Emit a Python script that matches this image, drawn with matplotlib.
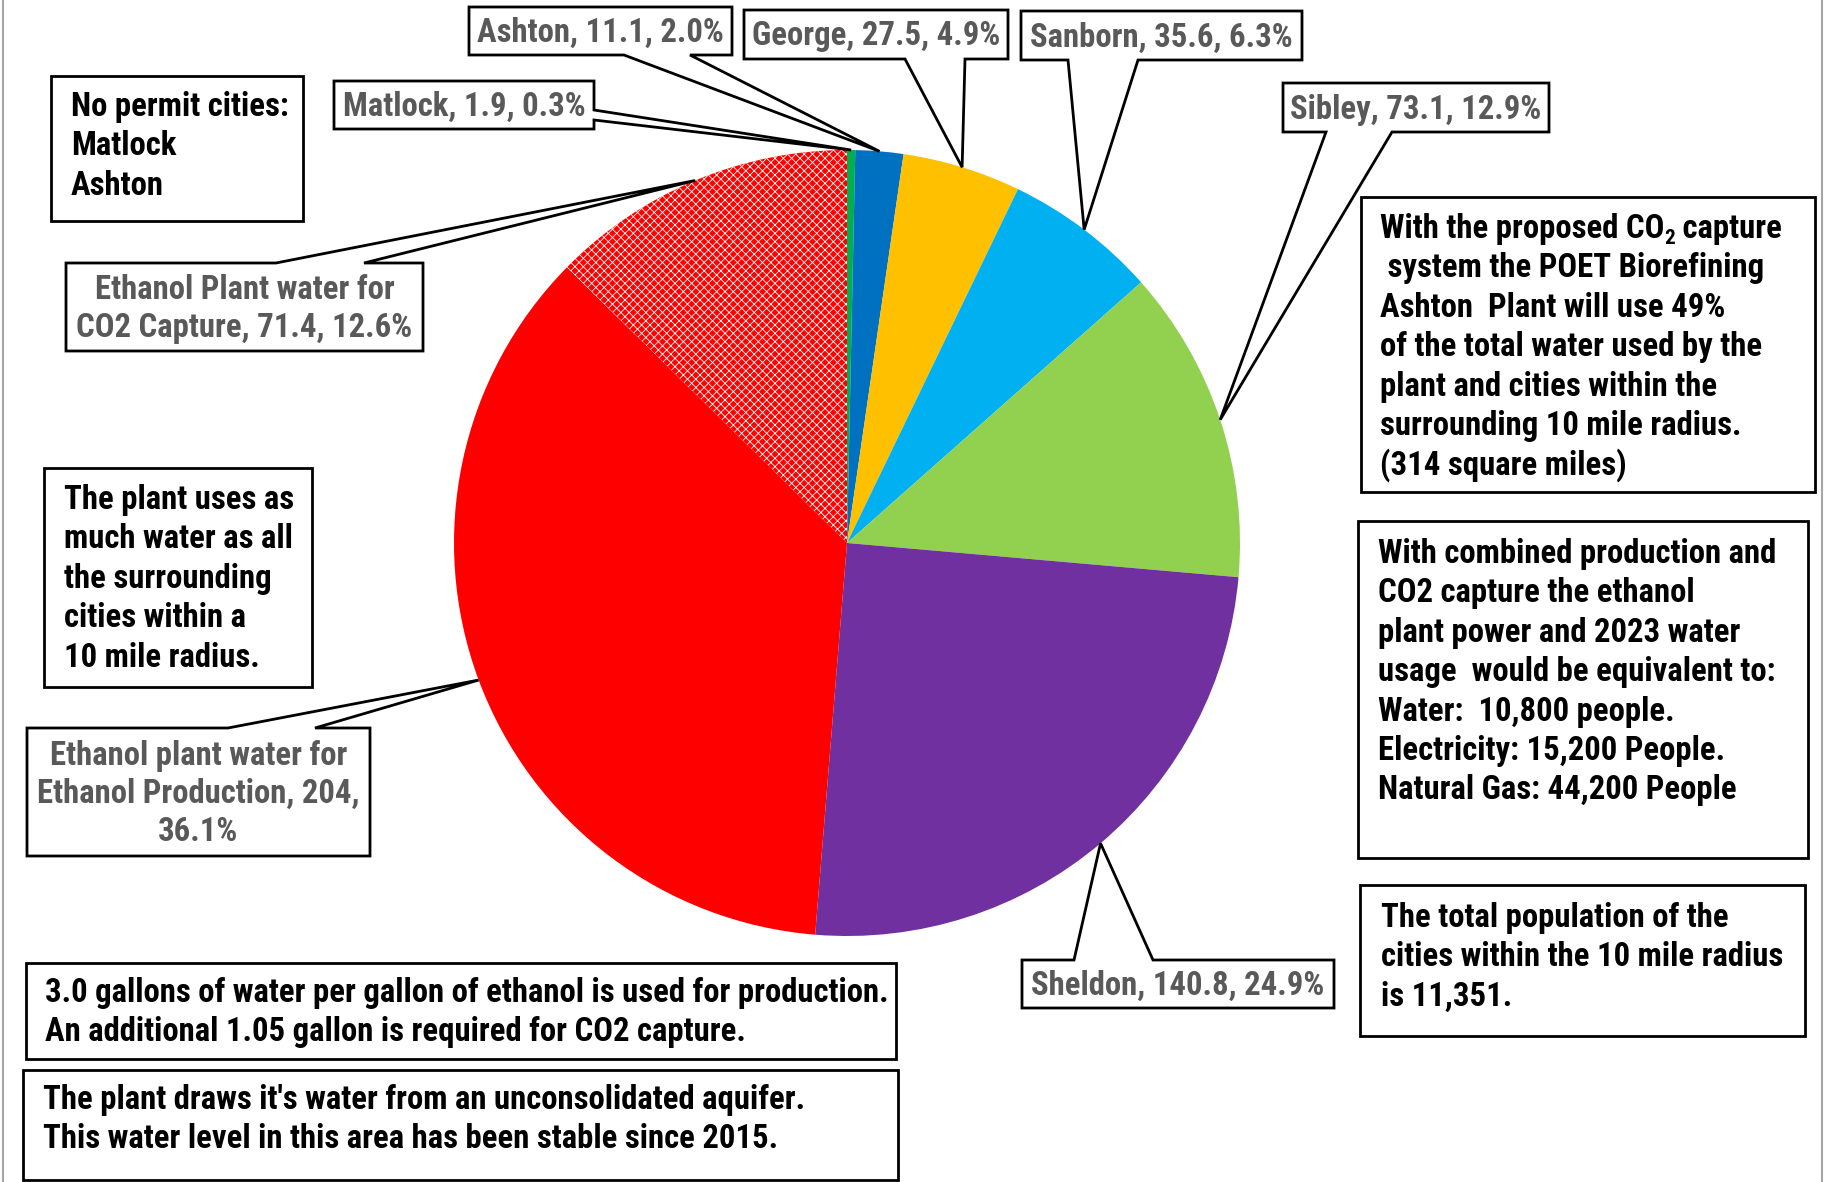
import os
import matplotlib.pyplot as plt
from matplotlib import font_manager
from matplotlib.font_manager import FontProperties
from matplotlib.patches import Polygon, Rectangle
import numpy as np

W, H = 1826, 1182

# water use per source (million gallons) and share of total
names = ["Matlock", "Ashton", "George", "Sanborn", "Sibley", "Sheldon",
         "Ethanol plant water for\nEthanol Production",
         "Ethanol Plant water for\nCO2 Capture"]
water = [1.9, 11.1, 27.5, 35.6, 73.1, 140.8, 204, 71.4]
share = [0.3, 2.0, 4.9, 6.3, 12.9, 24.9, 36.1, 12.6]
label_fmt = ["{n}, {v}, {p}%"] * 6 + ["{n}, {v},\n{p}%", "{n}, {v}, {p}%"]
colors = ["#00B050", "#0070C0", "#FFC000", "#00B0F0", "#92D050", "#7030A0",
          "#FF0000", "#FF0000"]

# callout boxes in pixel coords (left, top, right, bottom), edge holding the pointer, pointer base
callouts = [
    ((334, 81, 594, 129), "right", (110, 120)),
    ((469, 7, 732, 55), "bottom", (624, 690)),
    ((744, 10, 1008, 59), "bottom", (905, 965)),
    ((1021, 11, 1302, 60), "bottom", (1068, 1138)),
    ((1283, 83, 1549, 132), "bottom", (1326, 1392)),
    ((1022, 960, 1334, 1008), "top", (1074, 1153)),
    ((27, 728, 370, 856), "top", (228, 315)),
    ((66, 263, 423, 351), "top", (276, 364)),
]

notes = [
    ((51, 76, 303, 221), 71, 105, ["No permit cities:", "Matlock", "Ashton"]),
    ((44, 468, 312, 687), 64, 498, ["The plant uses as", "much water as all",
                                    "the surrounding", "cities within a",
                                    "10 mile radius."]),
    ((1361, 197, 1815, 492), 1380, 227, ["With the proposed CO_2 capture",
                                         " system the POET Biorefining",
                                         "Ashton  Plant will use 49%",
                                         "of the total water used by the",
                                         "plant and cities within the",
                                         "surrounding 10 mile radius.",
                                         "(314 square miles)"]),
    ((1358, 521, 1808, 858), 1378, 552, ["With combined production and",
                                         "CO2 capture the ethanol",
                                         "plant power and 2023 water",
                                         "usage  would be equivalent to:",
                                         "Water:  10,800 people.",
                                         "Electricity: 15,200 People.",
                                         "Natural Gas: 44,200 People"]),
    ((1360, 885, 1805, 1036), 1381, 916, ["The total population of the",
                                          "cities within the 10 mile radius",
                                          "is 11,351."]),
    ((26, 963, 896, 1059), 45, 991, ["3.0 gallons of water per gallon of ethanol is used for production.",
                                     "An additional 1.05 gallon is required for CO2 capture."]),
    ((23, 1070, 898, 1180), 43, 1098, ["The plant draws it's water from an unconsolidated aquifer.",
                                       "This water level in this area has been stable since 2015."]),
]
LINE_STEP = 39.4


def pick_font():
    files = sorted({f.fname for f in font_manager.fontManager.ttflist})
    for key in ("liberationsansnarrow-bold.", "robotocondensed-bold.",
                "dejavusanscondensed-bold.", "opensans_condensed-bold."):
        for f in files:
            if os.path.basename(f).lower().startswith(key):
                return f
    for f in files:
        b = os.path.basename(f).lower()
        if ("condensed" in b or "narrow" in b) and "bold" in b and not any(
                s in b for s in ("italic", "oblique", "semi", "extra", "light")):
            return f
    return font_manager.findfont(FontProperties(family="Liberation Sans", weight="bold"))


FONT_FILE = pick_font()

plt.rcParams["hatch.linewidth"] = 0.6


def Y(y):
    return H - y


fig = plt.figure(figsize=(W / 100, H / 100), dpi=100)
ax = fig.add_axes([0, 0, 1, 1])
ax.set_xlim(0, W)
ax.set_ylim(0, H)
renderer = fig.canvas.get_renderer()

# size the font so a known line spans its usual width
probe = ax.text(0, 0, "No permit cities:", fontproperties=FontProperties(fname=FONT_FILE, size=20))
FS = 20 * 217 / probe.get_window_extent(renderer).width
probe.remove()
fp = FontProperties(fname=FONT_FILE, size=FS)
fp_sub = FontProperties(fname=FONT_FILE, size=FS * 0.65)

cx, cy, R = 847, 543, 393
wedges, _ = ax.pie(water, colors=colors, startangle=90, counterclock=False,
                   center=(cx, Y(cy)), radius=R, frame=True,
                   wedgeprops=dict(linewidth=0))
# CO2 capture slice: red with a fine white cross-hatch
wedges[-1].set_edgecolor("white")
wedges[-1].set_linewidth(0)
wedges[-1].set_hatch("xxxx")

ax.set_xlim(0, W)
ax.set_ylim(0, H)
ax.axis("off")


def box_points(box, edge, base, tip):
    x0, y0, x1, y1 = box
    if edge == "bottom":
        pts = [(x0, y0), (x1, y0), (x1, y1), (base[1], y1), tip, (base[0], y1), (x0, y1)]
    elif edge == "top":
        pts = [(x0, y0), (base[0], y0), tip, (base[1], y0), (x1, y0), (x1, y1), (x0, y1)]
    else:
        pts = [(x0, y0), (x1, y0), (x1, base[0]), tip, (x1, base[1]), (x1, y1), (x0, y1)]
    return [(px, Y(py)) for px, py in pts]


# data-label callouts pointing at each wedge's middle
for w, n, v, p, fmt, (box, edge, base) in zip(wedges, names, water, share, label_fmt, callouts):
    mid = np.deg2rad((w.theta1 + w.theta2) / 2)
    tip = (cx + R * np.cos(mid), cy - R * np.sin(mid))
    ax.add_patch(Polygon(box_points(box, edge, base, tip), closed=True,
                         facecolor="white", edgecolor="black", linewidth=2,
                         joinstyle="miter", zorder=3))
    txt = fmt.format(n=n, v=f"{v:g}", p=f"{p:.1f}")
    ax.text((box[0] + box[2]) / 2, Y((box[1] + box[3]) / 2 + 2), txt,
            ha="center", va="center", fontproperties=fp,
            color="#595959", linespacing=1.25, zorder=4)


def put_line(x, y, line):
    # "_2" marks a subscript digit
    parts = line.split("_")
    for k, part in enumerate(parts):
        if k > 0:
            t = ax.text(x, y - 9, part[0], ha="left", va="center",
                        fontproperties=fp_sub, color="black", zorder=4)
            x = ax.transData.inverted().transform(
                (t.get_window_extent(renderer).x1, 0))[0]
            part = part[1:]
        t = ax.text(x, y, part, ha="left", va="center", fontproperties=fp,
                    color="black", zorder=4)
        x = ax.transData.inverted().transform(
            (t.get_window_extent(renderer).x1, 0))[0]


# text boxes
for (x0, y0, x1, y1), tx, ty, lines in notes:
    ax.add_patch(Rectangle((x0, Y(y1)), x1 - x0, y1 - y0, facecolor="white",
                           edgecolor="black", linewidth=2, zorder=3))
    for i, line in enumerate(lines):
        put_line(tx, Y(ty + 2 + i * LINE_STEP), line)

# thin frame on the sides
for x in (3, 1822):
    ax.plot([x, x], [0, H], color="#A6A6A6", linewidth=1.5)

fig.savefig("out.png", dpi=100)
